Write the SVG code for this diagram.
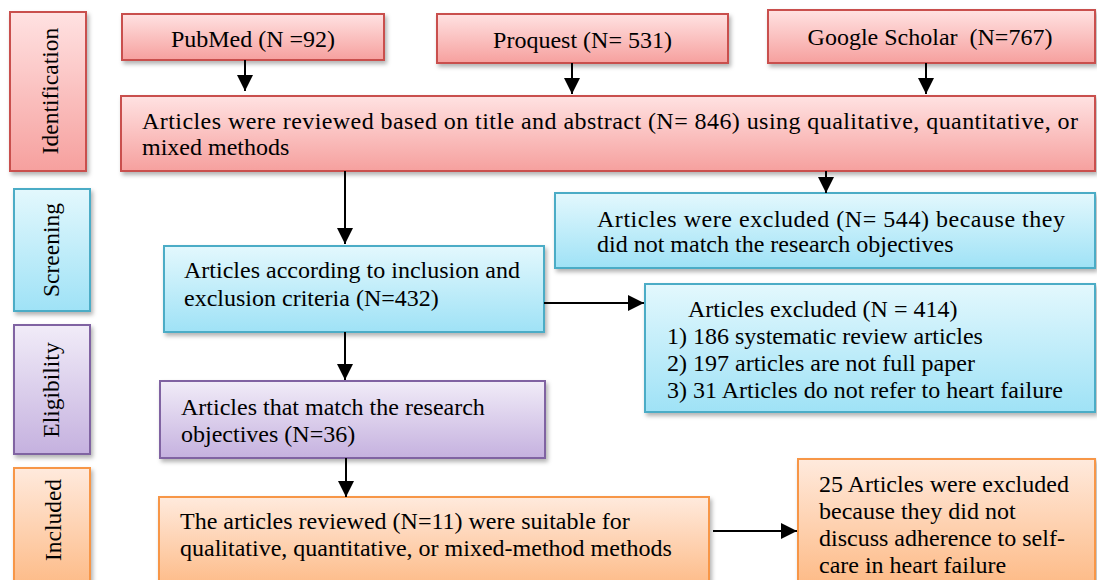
<svg xmlns="http://www.w3.org/2000/svg" width="1097" height="580" viewBox="0 0 1097 580">
<defs>
<linearGradient id="gRed" x1="0" y1="0" x2="0" y2="1"><stop offset="0" stop-color="#FFE2E2"/><stop offset="1" stop-color="#F6A09E"/></linearGradient>
<linearGradient id="gBlue" x1="0" y1="0" x2="0" y2="1"><stop offset="0" stop-color="#E3F8FD"/><stop offset="1" stop-color="#9FE2F6"/></linearGradient>
<linearGradient id="gPurple" x1="0" y1="0" x2="0" y2="1"><stop offset="0" stop-color="#F1ECF8"/><stop offset="1" stop-color="#C5B1DF"/></linearGradient>
<linearGradient id="gOrange" x1="0" y1="0" x2="0" y2="1"><stop offset="0" stop-color="#FFEADD"/><stop offset="1" stop-color="#FDB882"/></linearGradient>
<filter id="sh" x="-5%" y="-5%" width="115%" height="130%"><feDropShadow dx="2" dy="3" stdDeviation="2" flood-color="#000" flood-opacity="0.3"/></filter>
<marker id="arr" markerUnits="userSpaceOnUse" markerWidth="16" markerHeight="16" viewBox="0 0 14 14" refX="14" refY="7" orient="auto"><path d="M0,0 L14,7 L0,14 Z" fill="#000"/></marker>
</defs>
<style>
.red{fill:url(#gRed);stroke:#C9504D;stroke-width:2;filter:url(#sh)}
.blue{fill:url(#gBlue);stroke:#4BACC6;stroke-width:2;filter:url(#sh)}
.purple{fill:url(#gPurple);stroke:#8064A2;stroke-width:2;filter:url(#sh)}
.orange{fill:url(#gOrange);stroke:#F79646;stroke-width:2;filter:url(#sh)}
text{font-family:"Liberation Serif","Times New Roman",serif;font-size:24px;fill:#000}
.lab{font-size:23.5px}
.c{text-anchor:middle}
.con line{stroke:#000;stroke-width:2;marker-end:url(#arr)}
</style>
<rect width="1097" height="580" fill="#fff"/>

<g id="label-identification"><rect class="red" x="10" y="12" width="76" height="159"/><text class="lab c" transform="translate(58,91) rotate(-90)">Identification</text></g>
<g id="label-screening"><rect class="blue" x="14" y="189" width="76" height="122"/><text class="lab c" transform="translate(59,250) rotate(-90)">Screening</text></g>
<g id="label-eligibility"><rect class="purple" x="14" y="325" width="76" height="129"/><text class="lab c" transform="translate(59,390) rotate(-90)">Eligibility</text></g>
<g id="label-included"><rect class="orange" x="14" y="468" width="76" height="125"/><text class="lab c" transform="translate(61,520) rotate(-90)">Included</text></g>

<g id="pubmed"><rect class="red" x="122" y="14" width="262" height="46"/><text class="c" x="253" y="47">PubMed (N =92)</text></g>
<g id="proquest"><rect class="red" x="437" y="14" width="291" height="49"/><text class="c" x="582.5" y="48">Proquest (N= 531)</text></g>
<g id="google"><rect class="red" x="768" y="10" width="327" height="53"/><text class="c" x="930" y="45">Google Scholar&#160; (N=767)</text></g>
<g id="reviewed"><rect class="red" x="121" y="96" width="974" height="75"/><text x="142" y="129" textLength="936" lengthAdjust="spacing">Articles were reviewed based on title and abstract (N= 846) using qualitative, quantitative, or</text><text x="142" y="155">mixed methods</text></g>
<g id="excluded544"><rect class="blue" x="555" y="193" width="540" height="75"/><text x="597" y="227" textLength="468" lengthAdjust="spacing">Articles were excluded (N= 544) because they</text><text x="597" y="252">did not match the research objectives</text></g>
<g id="criteria432"><rect class="blue" x="164" y="246" width="380" height="86"/><text x="184" y="278">Articles according to inclusion and</text><text x="184" y="306">exclusion criteria (N=432)</text></g>
<g id="excluded414"><rect class="blue" x="645" y="284" width="450" height="128"/><text x="688" y="317">Articles excluded (N = 414)</text><text x="667" y="344">1) 186 systematic review articles</text><text x="667" y="371">2) 197 articles are not full paper</text><text x="667" y="398">3) 31 Articles do not refer to heart failure</text></g>
<g id="match36"><rect class="purple" x="160" y="381" width="385" height="77"/><text x="181" y="415">Articles that match the research</text><text x="181" y="442">objectives (N=36)</text></g>
<g id="included11"><rect class="orange" x="159" y="497" width="550" height="95"/><text x="180" y="529">The articles reviewed (N=11) were suitable for</text><text x="180" y="556">qualitative, quantitative, or mixed-method methods</text></g>
<g id="excluded25"><rect class="orange" x="798" y="459" width="297" height="133"/><text x="819" y="492">25 Articles were excluded</text><text x="819" y="519">because they did not</text><text x="819" y="546">discuss adherence to self-</text><text x="819" y="573">care in heart failure</text></g>

<g id="connectors" class="con">
<line x1="245" y1="60" x2="245" y2="91"/>
<line x1="572" y1="63" x2="572" y2="94"/>
<line x1="926" y1="63" x2="926" y2="94"/>
<line x1="826" y1="171" x2="826" y2="193"/>
<line x1="345" y1="171" x2="345" y2="244"/>
<line x1="345" y1="332" x2="345" y2="380"/>
<line x1="346" y1="458" x2="346" y2="497"/>
<line x1="544" y1="303" x2="644" y2="303"/>
<line x1="713" y1="531" x2="797" y2="531"/>
</g>
</svg>
